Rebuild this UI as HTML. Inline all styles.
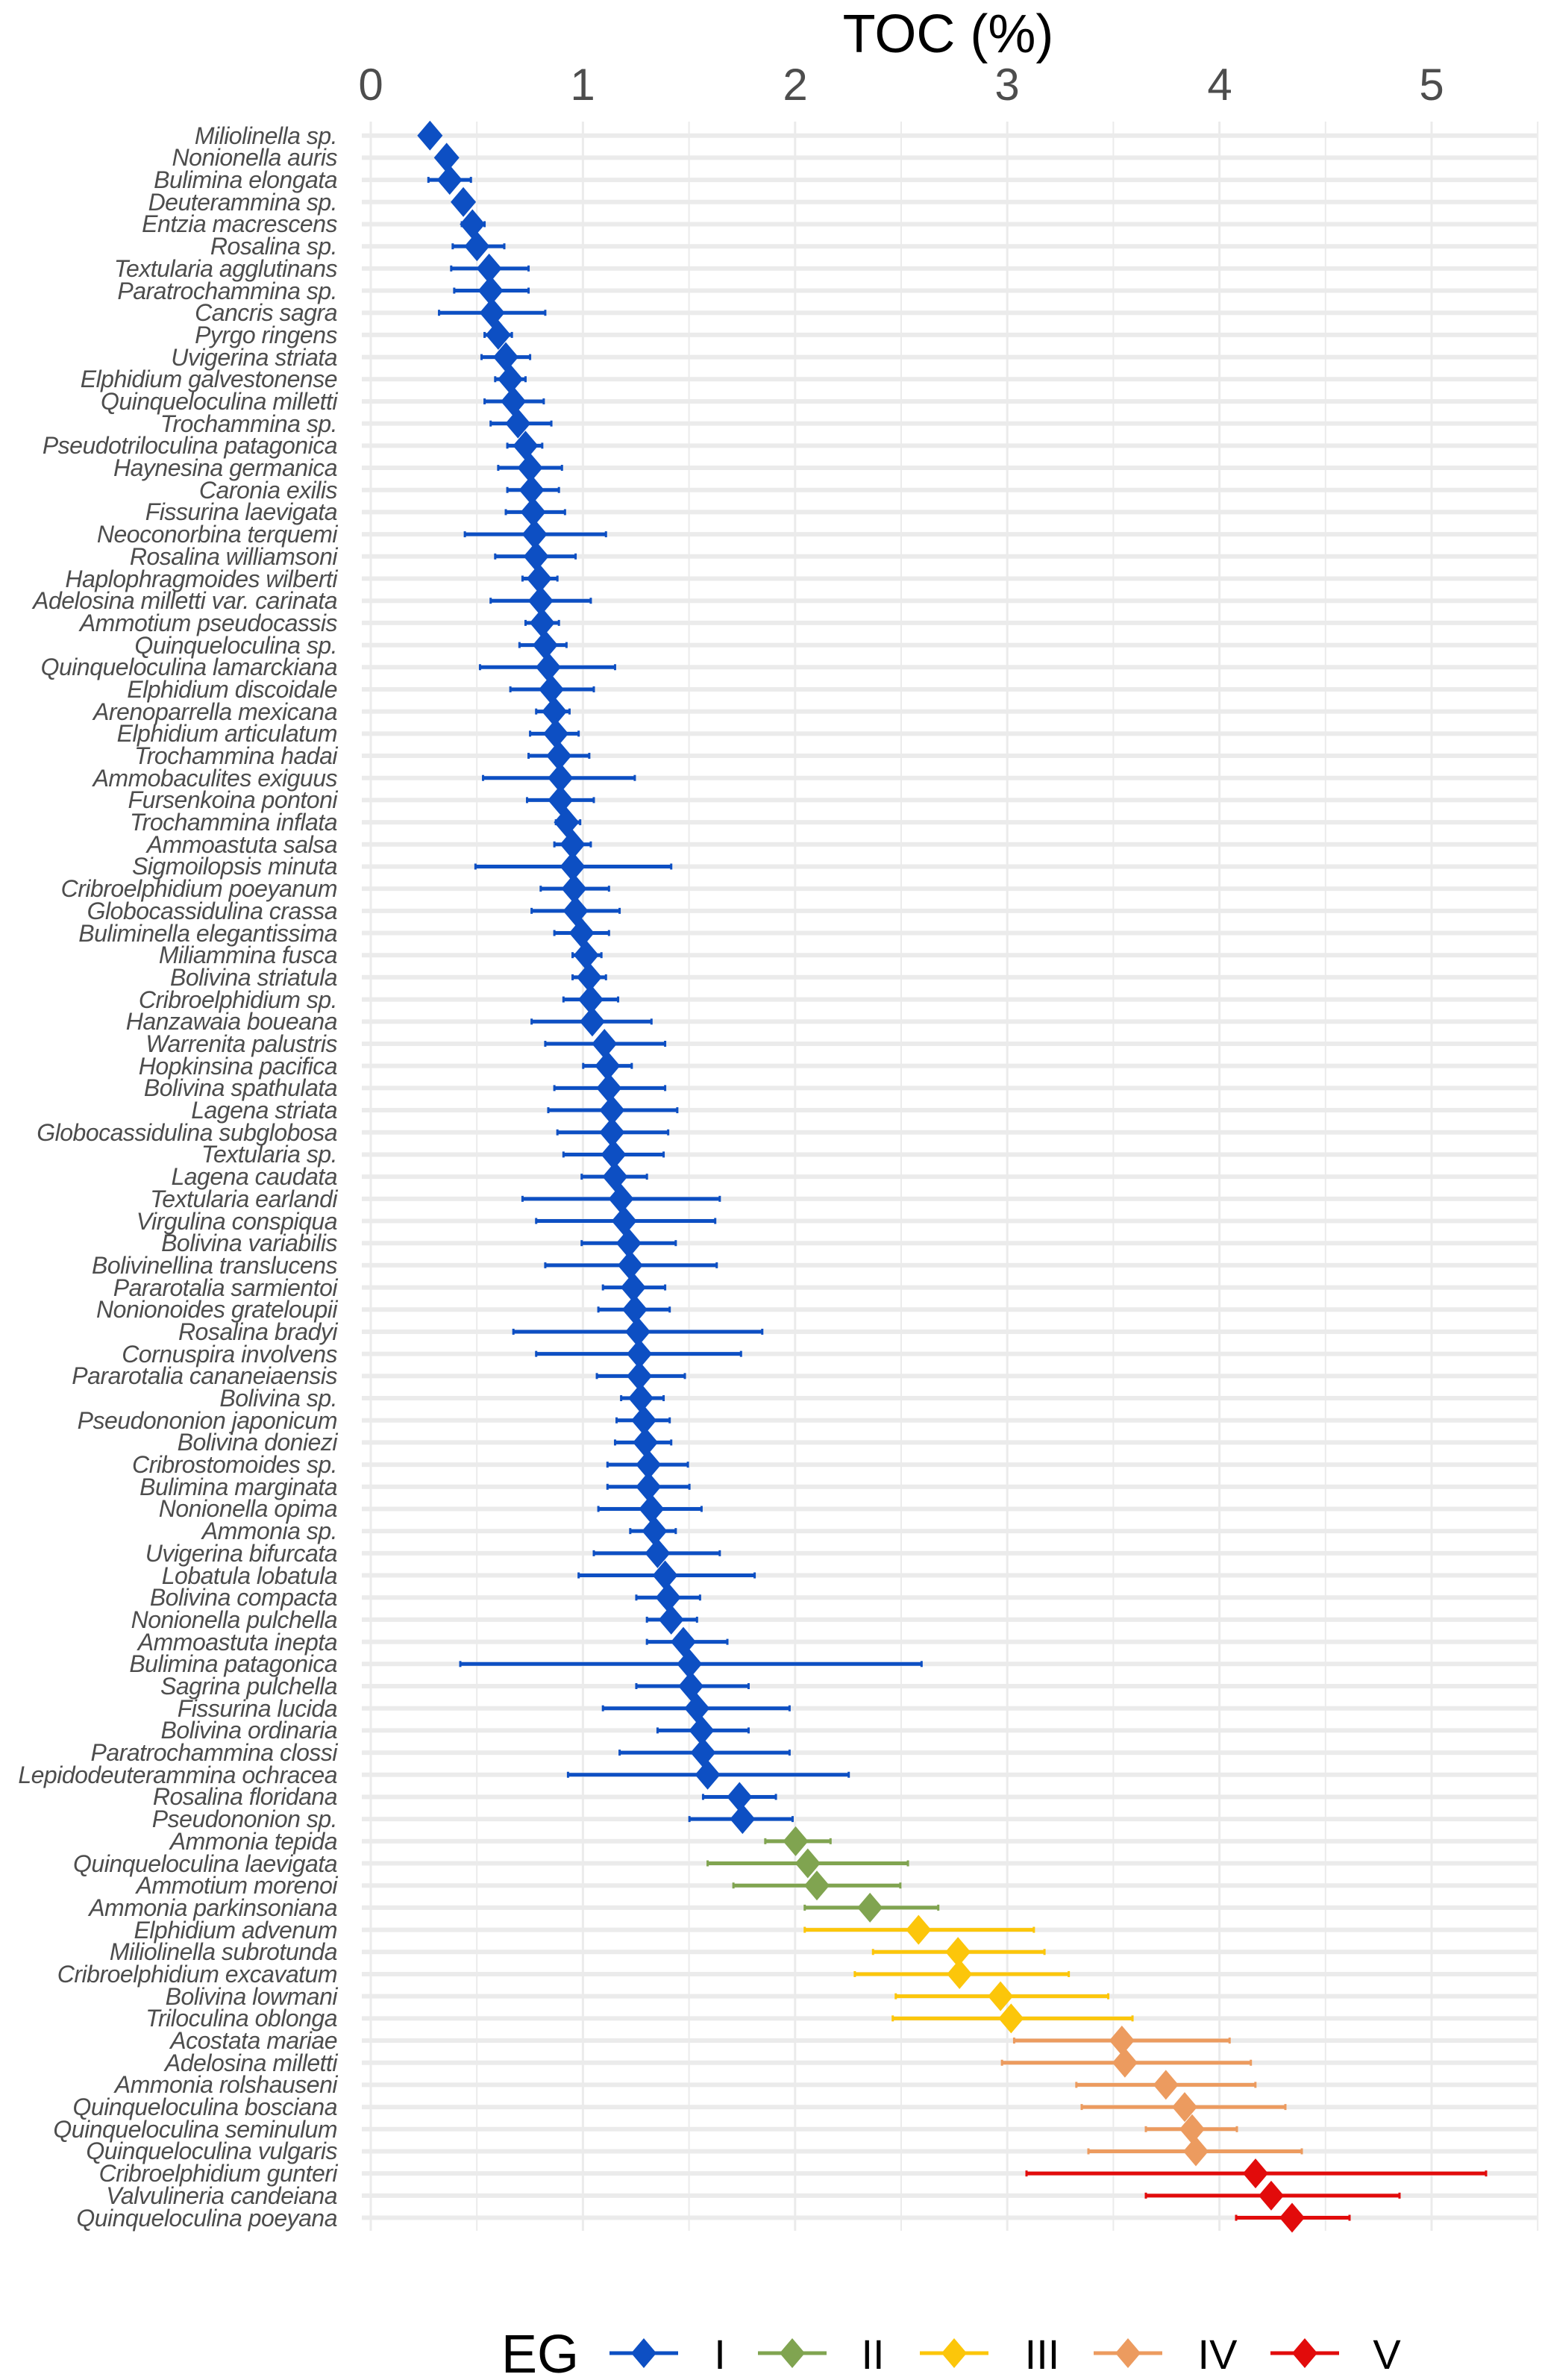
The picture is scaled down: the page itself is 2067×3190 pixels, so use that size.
<!DOCTYPE html>
<html><head><meta charset="utf-8"><style>
html,body{margin:0;padding:0;background:#fff;}
body{width:2067px;height:3190px;position:relative;overflow:hidden;font-family:"Liberation Sans",sans-serif;}
#labels{position:absolute;left:0;width:452px;top:0;}
#labels div{position:absolute;right:0;font-style:italic;font-size:32px;color:#4d4d4d;white-space:nowrap;line-height:30px;height:30px;letter-spacing:-0.5px;}
svg{position:absolute;left:0;top:0;}
</style></head><body>
<svg id="s" width="2067" height="3190" xmlns="http://www.w3.org/2000/svg">
<text x="1271" y="70" font-size="72" text-anchor="middle" font-family="Liberation Sans, sans-serif" fill="#000">TOC (%)</text>
<g font-size="60" fill="#4d4d4d" text-anchor="middle" font-family="Liberation Sans, sans-serif">
<text x="497" y="134">0</text><text x="781" y="134">1</text><text x="1066" y="134">2</text><text x="1350" y="134">3</text><text x="1635" y="134">4</text><text x="1919" y="134">5</text>
</g>
<g id="grid"></g>
<g id="data"></g>
<g font-family="Liberation Sans, sans-serif" fill="#000">
<text x="672" y="3180" font-size="72">EG</text>
<text x="965" y="3175" font-size="56" text-anchor="middle">I</text>
<text x="1170" y="3175" font-size="56" text-anchor="middle">II</text>
<text x="1397" y="3175" font-size="56" text-anchor="middle">III</text>
<text x="1632" y="3175" font-size="56" text-anchor="middle">IV</text>
<text x="1859" y="3175" font-size="56" text-anchor="middle">V</text>
</g>
<g id="leg"></g>
</svg>
<div id="labels">
<div>Miliolinella sp.</div><div>Nonionella auris</div><div>Bulimina elongata</div><div>Deuterammina sp.</div><div>Entzia macrescens</div><div>Rosalina sp.</div><div>Textularia agglutinans</div><div>Paratrochammina sp.</div><div>Cancris sagra</div><div>Pyrgo ringens</div><div>Uvigerina striata</div><div>Elphidium galvestonense</div><div>Quinqueloculina milletti</div><div>Trochammina sp.</div><div>Pseudotriloculina patagonica</div><div>Haynesina germanica</div><div>Caronia exilis</div><div>Fissurina laevigata</div><div>Neoconorbina terquemi</div><div>Rosalina williamsoni</div><div>Haplophragmoides wilberti</div><div>Adelosina milletti var. carinata</div><div>Ammotium pseudocassis</div><div>Quinqueloculina sp.</div><div>Quinqueloculina lamarckiana</div><div>Elphidium discoidale</div><div>Arenoparrella mexicana</div><div>Elphidium articulatum</div><div>Trochammina hadai</div><div>Ammobaculites exiguus</div><div>Fursenkoina pontoni</div><div>Trochammina inflata</div><div>Ammoastuta salsa</div><div>Sigmoilopsis minuta</div><div>Cribroelphidium poeyanum</div><div>Globocassidulina crassa</div><div>Buliminella elegantissima</div><div>Miliammina fusca</div><div>Bolivina striatula</div><div>Cribroelphidium sp.</div><div>Hanzawaia boueana</div><div>Warrenita palustris</div><div>Hopkinsina pacifica</div><div>Bolivina spathulata</div><div>Lagena striata</div><div>Globocassidulina subglobosa</div><div>Textularia sp.</div><div>Lagena caudata</div><div>Textularia earlandi</div><div>Virgulina conspiqua</div><div>Bolivina variabilis</div><div>Bolivinellina translucens</div><div>Pararotalia sarmientoi</div><div>Nonionoides grateloupii</div><div>Rosalina bradyi</div><div>Cornuspira involvens</div><div>Pararotalia cananeiaensis</div><div>Bolivina sp.</div><div>Pseudononion japonicum</div><div>Bolivina doniezi</div><div>Cribrostomoides sp.</div><div>Bulimina marginata</div><div>Nonionella opima</div><div>Ammonia sp.</div><div>Uvigerina bifurcata</div><div>Lobatula lobatula</div><div>Bolivina compacta</div><div>Nonionella pulchella</div><div>Ammoastuta inepta</div><div>Bulimina patagonica</div><div>Sagrina pulchella</div><div>Fissurina lucida</div><div>Bolivina ordinaria</div><div>Paratrochammina clossi</div><div>Lepidodeuterammina ochracea</div><div>Rosalina floridana</div><div>Pseudononion sp.</div><div>Ammonia tepida</div><div>Quinqueloculina laevigata</div><div>Ammotium morenoi</div><div>Ammonia parkinsoniana</div><div>Elphidium advenum</div><div>Miliolinella subrotunda</div><div>Cribroelphidium excavatum</div><div>Bolivina lowmani</div><div>Triloculina oblonga</div><div>Acostata mariae</div><div>Adelosina milletti</div><div>Ammonia rolshauseni</div><div>Quinqueloculina bosciana</div><div>Quinqueloculina seminulum</div><div>Quinqueloculina vulgaris</div><div>Cribroelphidium gunteri</div><div>Valvulineria candeiana</div><div>Quinqueloculina poeyana</div>
</div>
<script>
var T=[[282,0,0],[293,0,0],[295,281,309],[304,0,0],[310,303,318],[313,297,331],[321,296,347],[322,298,347],[323,288,358],[327,318,336],[332,316,348],[335,325,345],[337,318,357],[340,322,362],[345,333,356],[348,327,369],[349,333,367],[350,332,371],[351,305,398],[352,325,378],[354,343,366],[355,322,388],[356,345,367],[358,341,372],[360,315,404],[362,335,390],[364,352,374],[365,348,380],[367,347,387],[368,317,417],[368,346,390],[372,365,381],[376,364,388],[376,312,441],[377,355,400],[378,349,407],[382,364,400],[385,376,395],[387,376,398],[388,370,406],[389,349,428],[397,358,437],[399,383,415],[400,364,437],[402,360,445],[402,366,439],[403,370,436],[404,382,425],[408,343,473],[410,352,470],[413,382,444],[414,358,471],[416,396,437],[417,393,440],[419,337,501],[420,352,487],[420,392,450],[421,408,436],[423,405,440],[424,404,441],[426,399,452],[426,399,453],[428,393,461],[430,414,444],[432,390,473],[437,380,496],[439,418,460],[441,425,458],[449,425,478],[453,302,606],[454,418,492],[458,396,519],[461,432,492],[462,407,519],[465,373,558],[486,462,510],[488,453,521],[523,503,546],[531,465,597],[537,482,592],[572,529,617],[604,529,680],[630,574,687],[631,562,703],[658,589,729],[665,587,745],[738,667,809],[740,659,823],[767,708,826]];
function c(t){return 497+(t-243)*2.034;}
var D=T.map(function(r){return [c(r[0]),r[1]?c(r[1]):0,r[2]?c(r[2]):0];});
D.push([1588,1450,1723],[1598,1536,1658],[1603,1459,1745],[1683,1376,1992],[1704,1536,1876],[1732,1657,1809]);
var NS="http://www.w3.org/2000/svg";
function el(p,n,a){var e=document.createElementNS(NS,n);for(var k in a)e.setAttribute(k,a[k]);p.appendChild(e);return e;}
var g=document.getElementById('grid'),d=document.getElementById('data'),lg=document.getElementById('leg');
var y0=181.7,dy=29.69;
for(var i=0;i<=11;i++){var x=497+i*142.2;el(g,'line',{x1:x,x2:x,y1:163,y2:2990,stroke:'#ebebeb','stroke-width':i%2?2:3});}
for(var i=0;i<95;i++){var y=y0+i*dy;el(g,'line',{x1:485,x2:2060,y1:y,y2:y,stroke:'#ebebeb','stroke-width':6});}
function col(i){return i<77?'#0d4fc3':i<81?'#80a450':i<86?'#fcc60a':i<92?'#ec9b5f':'#e20b0b';}
function dia(p,x,y,cl){el(p,'polygon',{points:(x)+','+(y-20)+' '+(x+17)+','+y+' '+x+','+(y+20)+' '+(x-17)+','+y,fill:cl});}
var labs=document.querySelectorAll('#labels div');
for(var i=0;i<95;i++){var y=y0+i*dy,r=D[i],cl=col(i);
labs[i].style.top=(y-15)+'px';
if(r[1]){el(d,'line',{x1:r[1],x2:r[2],y1:y,y2:y,stroke:cl,'stroke-width':5});
el(d,'line',{x1:r[1],x2:r[1],y1:y-4,y2:y+4,stroke:cl,'stroke-width':3});
el(d,'line',{x1:r[2],x2:r[2],y1:y-4,y2:y+4,stroke:cl,'stroke-width':3});}
dia(d,r[0],y,cl);}
[[863,'#0d4fc3'],[1062,'#80a450'],[1279,'#fcc60a'],[1512,'#ec9b5f'],[1749,'#e20b0b']].forEach(function(k){
el(lg,'line',{x1:k[0]-46,x2:k[0]+46,y1:3154,y2:3154,stroke:k[1],'stroke-width':5});dia(lg,k[0],3154,k[1]);});
</script>
</body></html>
